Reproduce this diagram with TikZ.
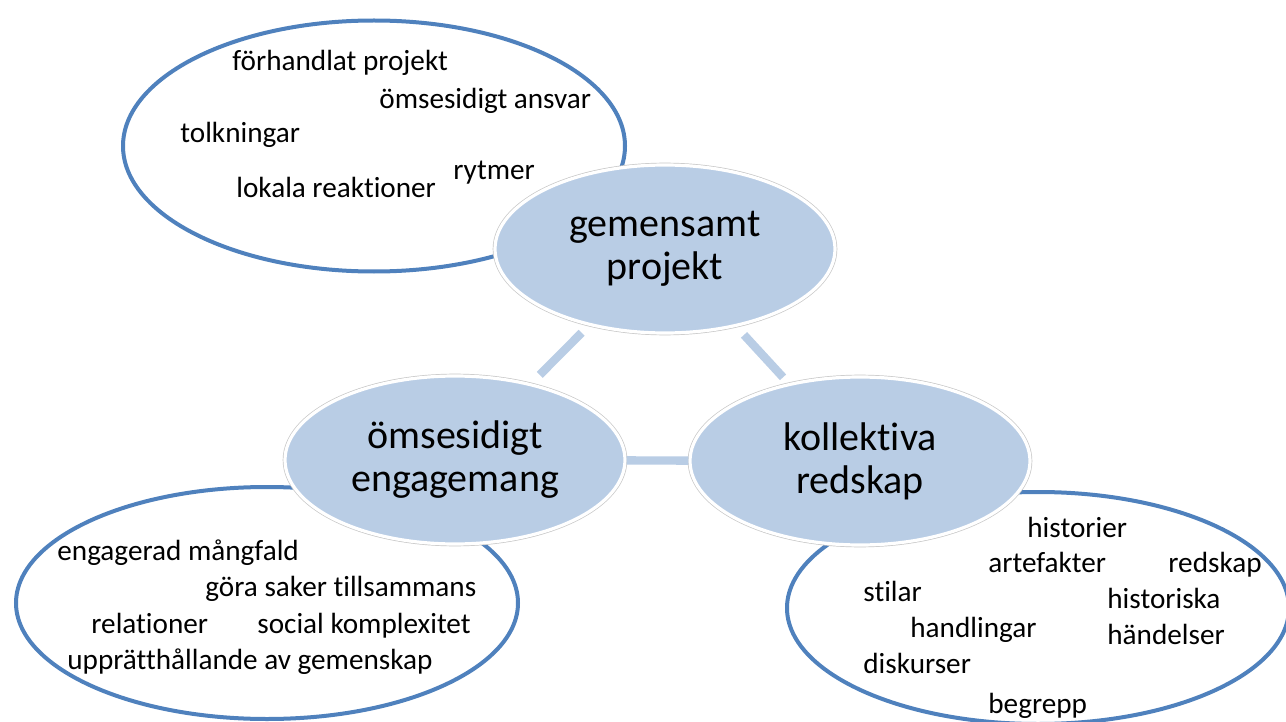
\documentclass[tikz,border=0pt]{standalone}
\usepackage{fontspec}
\setmainfont{Carlito}[Ligatures=NoCommon]
\usepackage{tikz}
\usetikzlibrary{shapes.geometric}
\definecolor{ringblue}{RGB}{79,129,189}
\definecolor{coreblue}{RGB}{185,205,229}
\tikzset{
    ring_top/.style={
        ellipse, draw=ringblue, line width=2pt, fill=white,
        minimum width=251pt, minimum height=125.5pt, inner sep=0pt
    },
    ring_low/.style={
        ring_top, minimum height=116pt
    },
    core_node/.style={
        ellipse, fill=coreblue, draw=white, line width=1.6pt,
        preaction={draw=black!22, line width=2.3pt},
        minimum width=170pt, minimum height=84pt, inner sep=0pt,
        align=center, font=\fontsize{20}{21.5}\selectfont
    },
    word/.style={
        anchor=base west, inner sep=0pt, font=\fontsize{14.6}{17}\selectfont
    },
    link_bar/.style={
        draw=coreblue, line width=4.2pt
    }
}

\begin{document}
\begin{tikzpicture}[x=0.5pt, y=-0.5pt]
    \useasboundingbox (0,0) rectangle (1286,722);

    % --- Outer rings (white, blue border) ---
    \node[ring_top] (ring_proj) at (374,146) {};
    \node[ring_low] (ring_eng) at (267,603) {};
    \node[ring_low] (ring_kol) at (1038,608) {};

    % --- Words: gemensamt projekt ---
    \node[word] (w_forh) at (232,71) {förhandlat projekt};
    \node[word] (w_ansv) at (379,109) {ömsesidigt ansvar};
    \node[word] (w_tolk) at (180,143) {tolkningar};
    \node[word] (w_rytm) at (453,179) {rytmer};
    \node[word] (w_loka) at (236,198) {lokala reaktioner};

    % --- Words: ömsesidigt engagemang ---
    \node[word] (w_mang) at (57,560) {engagerad mångfald};
    \node[word] (w_gora) at (205,596) {göra saker tillsammans};
    \node[word] (w_rela) at (91,633) {relationer};
    \node[word] (w_soci) at (257,633) {social komplexitet};
    \node[word] (w_uppr) at (67,669) {upprätthållande av gemenskap};

    % --- Words: kollektiva redskap ---
    \node[word] (w_hist) at (1027,537) {historier};
    \node[word] (w_arte) at (988,572) {artefakter};
    \node[word] (w_reds) at (1168,572) {redskap};
    \node[word] (w_stil) at (863,601) {stilar};
    \node[word] (w_hika) at (1107,608) {historiska};
    \node[word] (w_hand) at (910,637) {handlingar};
    \node[word] (w_hand2) at (1107,644) {händelser};
    \node[word] (w_disk) at (863,673) {diskurser};
    \node[word] (w_begr) at (988,713) {begrepp};

    % --- Core ellipses ---
    \node[core_node] (proj) at (665,249) {gemensamt\\projekt};
    \node[core_node] (eng) at (455,460) {ömsesidigt\\engagemang};
    \node[core_node] (kol) at (860,461) {kollektiva\\redskap};

    % --- Links ---
    \draw[link_bar, shorten <=5pt, shorten >=6pt] (proj) -- (eng);
    \draw[link_bar, shorten <=5.5pt, shorten >=4pt] (proj) -- (kol);
    \draw[link_bar] (eng) -- (kol);

\end{tikzpicture}
\end{document}
